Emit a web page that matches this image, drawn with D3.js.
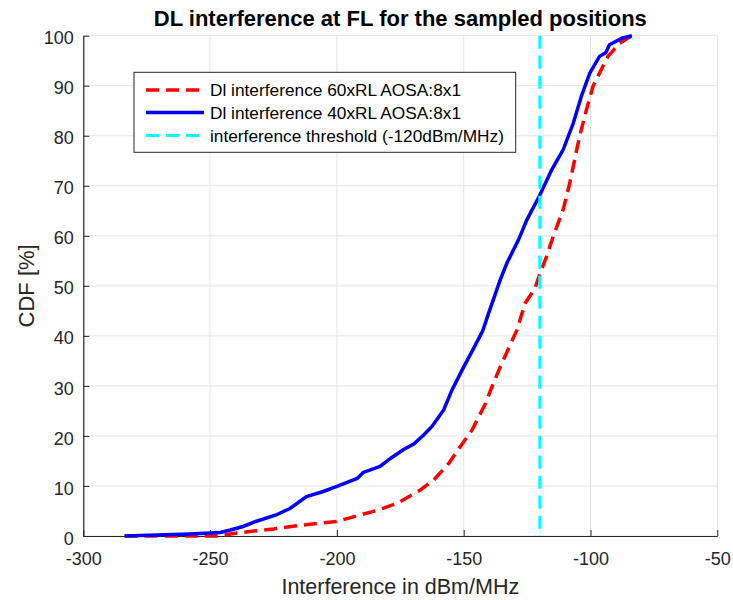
<!DOCTYPE html>
<html>
<head>
<meta charset="utf-8">
<script src="https://cdn.jsdelivr.net/npm/d3@7"></script>
<style>
    body { margin: 0; background: #fff; }
    svg { font-family: "Liberation Sans", Arial, sans-serif; }
</style>
</head>
<body>
<svg id="cdfSvg" width="733" height="600"></svg>
<script>
// interference values (dBm/MHz) and CDF values (%)
let interf60 = [-283.7, -246, -242, -234.3, -225, -213.3, -200, -192.2, -184.4, -176.3, -167.1, -161.8,
    -155.9, -151.3, -146.7, -144.7, -141.4, -138.8, -135.5, -132.3, -129, -125.8, -121.9, -119.9,
    -117.3, -114.7, -110.8, -108.2, -104.3, -101.6, -99, -95.1, -93.1, -88.5, -83.7];
let cdf60 = [0, 0, 0.4, 0.9, 1.4, 2.2, 2.9, 4, 5.1, 6.5, 9.2, 11.2,
    14.5, 17.9, 21.2, 23.2, 26.5, 29.9, 33.9, 37.5, 41.2, 46.5, 49.5, 52.5,
    55.9, 59.9, 65.2, 70.5, 79.9, 85.2, 89.9, 93.9, 95.9, 98.5, 100];

let interf40 = [-283.7, -271, -258, -246, -242, -237, -232, -224, -218.5, -212, -205.4, -200,
    -192, -189.6, -183, -178.9, -173.7, -169.7, -165.8, -162.5, -157.9, -154.6, -150.6, -146.1,
    -142.5, -140.2, -135.6, -133, -128.4, -125.1, -120.2, -115.3, -110.8, -106.8, -103.6, -100.3,
    -96.4, -94, -92.5, -87.6, -83.7];
let cdf40 = [0, 0.2, 0.4, 0.7, 1.2, 1.9, 2.9, 4.2, 5.5, 7.9, 8.9, 9.9,
    11.5, 12.7, 13.9, 15.5, 17.3, 18.4, 20.2, 21.9, 25.2, 29.2, 33.2, 37.5,
    41, 44.5, 51.2, 54.5, 59.2, 63.2, 67.9, 73.2, 77.2, 82.5, 87.9, 92.5,
    95.9, 96.6, 98.2, 99.5, 100];

let threshold = -120;

let xTicks = [-300, -250, -200, -150, -100, -50];
let yTicks = [0, 10, 20, 30, 40, 50, 60, 70, 80, 90, 100];

let legendLabels = ["Dl interference 60xRL AOSA:8x1", "Dl interference 40xRL AOSA:8x1",
    "interference threshold (-120dBm/MHz)"];

const svg = d3.select("#cdfSvg");
const plotLeft = 83.3, plotRight = 717.3, plotTop = 35.7, plotBottom = 536;
const axisColor = "#262626";

let x = d3.scaleLinear().domain([-300, -50]).range([plotLeft, plotRight]);
let y = d3.scaleLinear().domain([0, 100]).range([plotBottom, plotTop]);

// grid
svg.append("g").selectAll("line")
    .data(xTicks)
    .join("line")
    .attr("x1", d => x(d)).attr("x2", d => x(d))
    .attr("y1", plotTop).attr("y2", plotBottom)
    .attr("stroke", "#e3e3e3").attr("stroke-width", 1);
svg.append("g").selectAll("line")
    .data(yTicks)
    .join("line")
    .attr("x1", plotLeft).attr("x2", plotRight)
    .attr("y1", d => y(d)).attr("y2", d => y(d))
    .attr("stroke", "#e3e3e3").attr("stroke-width", 1);

// axes (ticks point inward, plain hyphen minus like matlab)
let xAxis = svg.append("g")
    .attr("transform", `translate(0,${plotBottom})`)
    .call(d3.axisBottom(x).tickValues(xTicks).tickFormat(d => String(d))
        .tickSizeInner(-6).tickSizeOuter(0).tickPadding(16));
let yAxis = svg.append("g")
    .attr("transform", `translate(${plotLeft},0)`)
    .call(d3.axisLeft(y).tickValues(yTicks).tickFormat(d => String(d))
        .tickSizeInner(-6).tickSizeOuter(0).tickPadding(9.5));

[xAxis, yAxis].forEach(a => {
    a.select(".domain").attr("stroke", axisColor).attr("stroke-width", 1.2);
    a.selectAll(".tick line").attr("stroke", axisColor);
    a.selectAll(".tick text")
        .attr("fill", axisColor)
        .style("font-size", "18px")
        .style("font-family", "'Liberation Sans', Arial, sans-serif");
});
yAxis.selectAll(".tick text").attr("dy", "0.45em");

let line = d3.line()
    .x(d => x(d[0]))
    .y(d => y(d[1]));

let red = interf60.map((v, i) => [v, cdf60[i]]);
let blue = interf40.map((v, i) => [v, cdf40[i]]);

svg.append("path")
    .attr("d", line(red))
    .attr("fill", "none")
    .attr("stroke", "#ff0000")
    .attr("stroke-width", 3.5)
    .attr("stroke-dasharray", "13,7");

svg.append("path")
    .attr("d", line(blue))
    .attr("fill", "none")
    .attr("stroke", "#0000ff")
    .attr("stroke-width", 3.5);

svg.append("line")
    .attr("x1", x(threshold)).attr("x2", x(threshold))
    .attr("y1", y(100)).attr("y2", y(0))
    .attr("stroke", "#00ffff")
    .attr("stroke-width", 3)
    .attr("stroke-dasharray", "13,7");

// title and axis labels
svg.append("text")
    .attr("x", (plotLeft + plotRight) / 2)
    .attr("y", 26)
    .attr("text-anchor", "middle")
    .style("font-size", "22px")
    .style("font-weight", "bold")
    .attr("fill", "#000")
    .text("DL interference at FL for the sampled positions");

svg.append("text")
    .attr("x", (plotLeft + plotRight) / 2)
    .attr("y", 594)
    .attr("text-anchor", "middle")
    .style("font-size", "21.5px")
    .attr("fill", axisColor)
    .text("Interference in dBm/MHz");

svg.append("text")
    .attr("transform", `translate(33.5,${(plotTop + plotBottom) / 2}) rotate(-90)`)
    .attr("text-anchor", "middle")
    .style("font-size", "22px")
    .attr("fill", axisColor)
    .text("CDF [%]");

// legend
let legend = svg.append("g");
legend.append("rect")
    .attr("x", 134).attr("y", 72.3)
    .attr("width", 381.7).attr("height", 80)
    .attr("fill", "#fff")
    .attr("stroke", axisColor)
    .attr("stroke-width", 1);

let legendStyles = [
    {color: "#ff0000", dash: "13,7"},
    {color: "#0000ff", dash: null},
    {color: "#00ffff", dash: "13,7"}
];
let rowY = [90, 112.5, 135.5];

legendLabels.forEach((label, i) => {
    legend.append("line")
        .attr("x1", 146).attr("x2", 204)
        .attr("y1", rowY[i]).attr("y2", rowY[i])
        .attr("stroke", legendStyles[i].color)
        .attr("stroke-width", i === 2 ? 3 : 3.5)
        .attr("stroke-dasharray", legendStyles[i].dash);
    legend.append("text")
        .attr("x", 210)
        .attr("y", rowY[i])
        .attr("dy", "0.35em")
        .style("font-size", "17.3px")
        .attr("fill", "#000")
        .text(label);
});
</script>
</body>
</html>
